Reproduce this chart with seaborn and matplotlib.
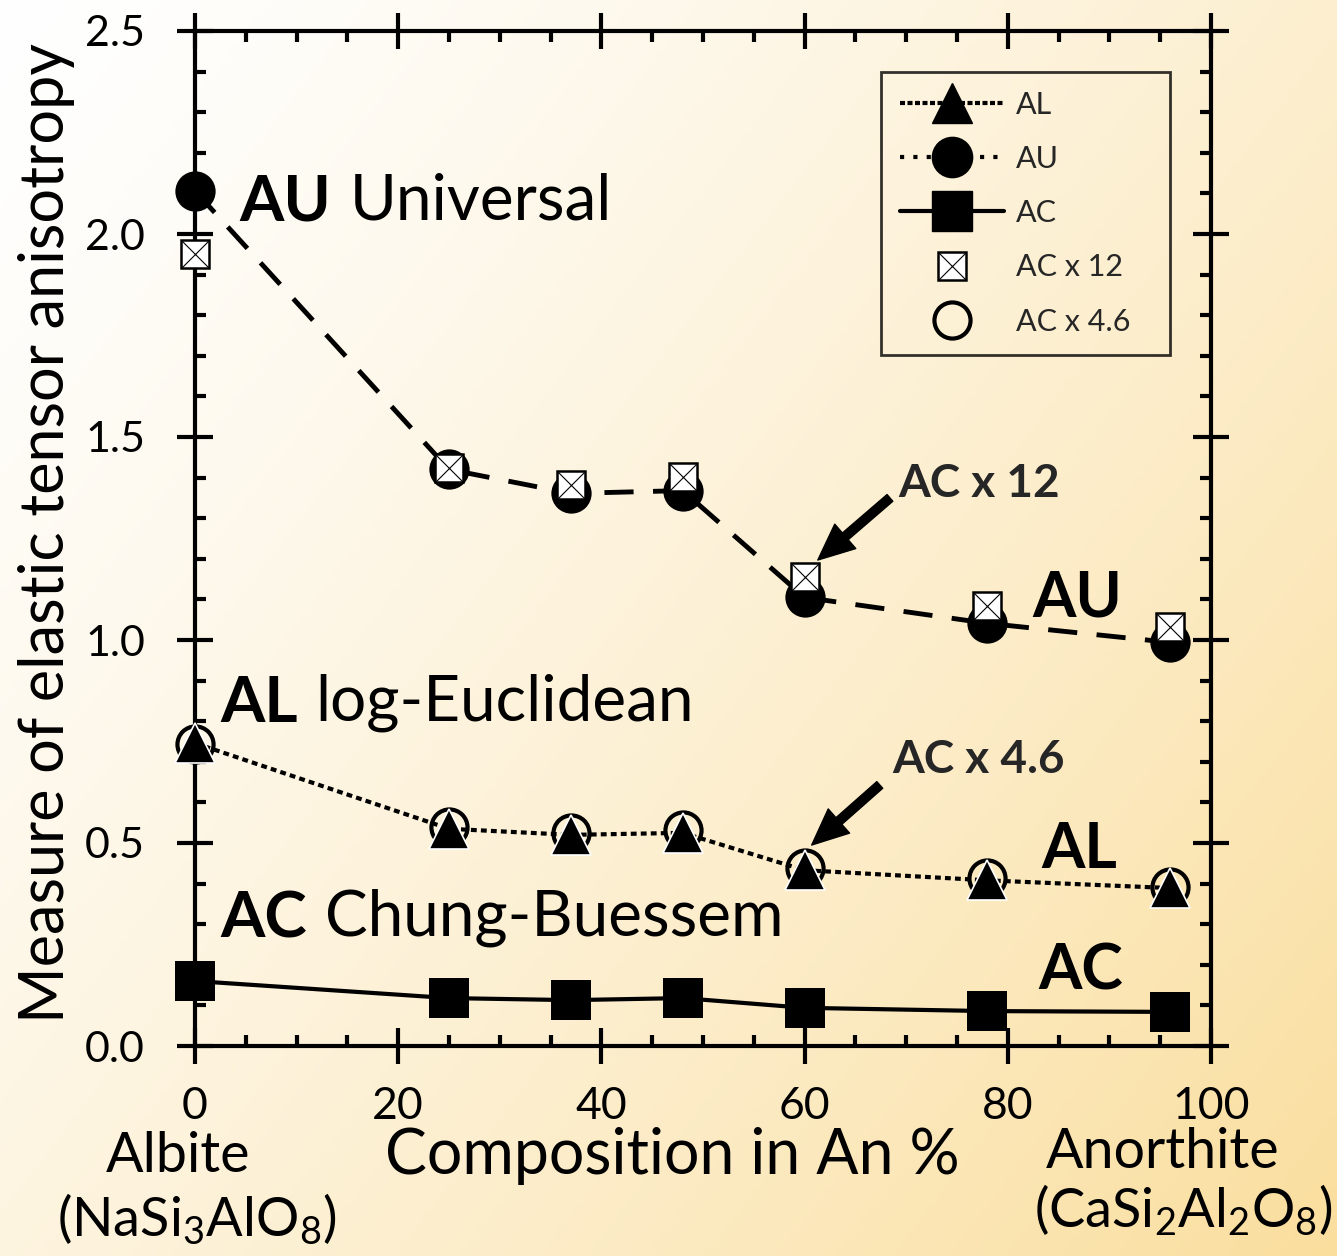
import numpy as np
import matplotlib
matplotlib.use("Agg")
import matplotlib.pyplot as plt
from matplotlib.lines import Line2D
from matplotlib.ticker import MultipleLocator, FormatStrFormatter
import seaborn as sns

sns.set_theme(style="ticks")
plt.rcParams["font.family"] = ["Lato", "DejaVu Sans"]
plt.rcParams["mathtext.fontset"] = "custom"
plt.rcParams["mathtext.rm"] = "Lato"
plt.rcParams["mathtext.it"] = "Lato:italic"
plt.rcParams["mathtext.bf"] = "Lato:bold"

# ---- Data ---------------------------------------------------------------
an_pct = [0, 25, 37, 48, 60, 78, 96]
au = [2.106, 1.42, 1.361, 1.368, 1.105, 1.041, 0.994]
al = [0.746, 0.535, 0.520, 0.525, 0.433, 0.408, 0.389]
ac = [0.160, 0.118, 0.113, 0.118, 0.094, 0.086, 0.084]
ac_x12 = [1.951, 1.424, 1.382, 1.401, 1.155, 1.084, 1.032]
ac_x46 = [0.745, 0.540, 0.525, 0.532, 0.438, 0.414, 0.392]

W, H, DPI = 1337, 1256, 100
fig = plt.figure(figsize=(W / DPI, H / DPI), dpi=DPI)

# ---- Background gradient -------------------------------------------------
bg = fig.add_axes([0, 0, 1, 1], zorder=-10)
gx, gy = np.meshgrid(np.linspace(0, 1, 300), np.linspace(0, 1, 300))
t = np.clip(0.58 * gx + 0.42 * gy, 0, 1) ** 1.3
c0 = np.array([255, 255, 255]) / 255
c1 = np.array([250, 222, 158]) / 255
grad = c0[None, None, :] * (1 - t[..., None]) + c1[None, None, :] * t[..., None]
bg.imshow(grad, aspect="auto", extent=(0, 1, 0, 1), origin="upper")
bg.axis("off")

ax = fig.add_axes([195 / W, 1 - 1046 / H, (1211 - 195) / W, (1046 - 31) / H])
ax.set_facecolor("none")

# ---- Series --------------------------------------------------------------
common = dict(ax=ax, color="black", legend=False, errorbar=None, sort=False, clip_on=False)
sns.lineplot(x=an_pct, y=au, marker="o", markersize=29, markeredgecolor="black",
             markeredgewidth=0, linewidth=3.5, linestyle=(0, (6, 4)), zorder=3, **common)
sns.lineplot(x=an_pct, y=ac_x12, marker="s", markersize=19.5, markerfacecolor="white",
             markeredgecolor="black", markeredgewidth=1.8, linestyle="none", zorder=5, **common)
sns.lineplot(x=an_pct, y=ac_x12, marker="x", markersize=19.5, markeredgecolor="black",
             markeredgewidth=0.8, linestyle="none", zorder=6, **common)
sns.lineplot(x=an_pct, y=ac_x46, marker="o", markersize=26, markerfacecolor="none",
             markeredgecolor="black", markeredgewidth=3, linestyle="none", zorder=3, **common)
sns.lineplot(x=an_pct, y=al, marker="^", markersize=29, markeredgecolor="white",
             markeredgewidth=1.2, linewidth=3, linestyle=(0, (1.4, 1.0)), zorder=4, **common)
sns.lineplot(x=an_pct, y=ac, marker="s", markersize=29, markeredgecolor="black",
             markeredgewidth=0, linewidth=3, zorder=4, **common)

# ---- Axes styling --------------------------------------------------------
ax.set_xlim(0, 100)
ax.set_ylim(0, 2.5)
ax.set_xticks([0, 20, 40, 60, 80, 100])
ax.set_yticks([0, 0.5, 1.0, 1.5, 2.0, 2.5])
ax.yaxis.set_major_formatter(FormatStrFormatter("%.1f"))
ax.xaxis.set_minor_locator(MultipleLocator(5))
ax.yaxis.set_minor_locator(MultipleLocator(0.1))
for s in ax.spines.values():
    s.set_visible(True)
    s.set_linewidth(3)
    s.set_color("black")
ax.tick_params(which="major", direction="inout", length=26, width=3, color="black",
               top=True, right=True)
ax.tick_params(which="minor", direction="in", length=8, width=3, color="black",
               top=True, right=True)
ax.tick_params(axis="x", which="major", labelsize=32, pad=16, labelcolor="black")
ax.tick_params(axis="y", which="major", labelsize=31, pad=23, labelcolor="black")
ax.grid(False)

ax.set_ylabel("Measure of elastic tensor anisotropy", fontsize=44, color="black")
ax.yaxis.set_label_coords(-0.118, 0.505)

# ---- In-plot labels ------------------------------------------------------
def two_part(x, y, bold, rest, size):
    t1 = ax.text(x, y, bold, fontsize=size, fontweight="bold", va="baseline", color="black")
    ax.annotate(rest, xy=(1, 0), xycoords=t1, xytext=(size * 0.28, 0),
                textcoords="offset points", fontsize=size, va="bottom", color="black")

two_part(4.4, 2.034, "AU", "Universal", 46)
two_part(2.46, 0.798, "AL", "log-Euclidean", 46)
two_part(2.46, 0.268, "AC", "Chung-Buessem", 46)

for x, y, s in [(82.4, 1.057, "AU"), (83.3, 0.438, "AL"), (83.0, 0.138, "AC")]:
    ax.text(x, y, s, fontsize=45, fontweight="bold", va="baseline", color="black")

arrow = dict(arrowstyle="simple,head_length=0.9,head_width=0.8,tail_width=0.22",
             color="black", mutation_scale=29, shrinkA=0, shrinkB=0)
ax.annotate("", xy=(61.3, 1.197), xytext=(68.4, 1.35), arrowprops=arrow)
ax.text(69.2, 1.352, "AC x 12", fontsize=33, fontweight="bold", va="baseline")
ax.annotate("", xy=(60.7, 0.495), xytext=(67.4, 0.643), arrowprops=arrow)
ax.text(68.6, 0.672, "AC x 4.6", fontsize=33, fontweight="bold", va="baseline")

# ---- Legend --------------------------------------------------------------
h_al = Line2D([], [], color="black", lw=3, ls=(0, (1.2, 0.6)), marker="^", ms=29)
h_au = Line2D([], [], color="black", lw=3, ls=(0, (1.0, 2.2)), marker="o", ms=29)
h_ac = Line2D([], [], color="black", lw=3, ls="-", marker="s", ms=29)
h_sq = Line2D([], [], ls="none", marker="s", ms=19.5, mfc="white", mec="black", mew=1.8)
h_x = Line2D([], [], ls="none", marker="x", ms=19.5, mec="black", mew=0.8)
h_oc = Line2D([], [], ls="none", marker="o", ms=26, mfc="none", mec="black", mew=3)
leg = ax.legend([h_al, h_au, h_ac, (h_sq, h_x), h_oc],
                ["AL", "AU", "AC", "AC x 12", "AC x 4.6"],
                loc="upper left", bbox_to_anchor=(0.675, 0.686, 0.285, 0.274),
                mode="expand", borderaxespad=0,
                fontsize=22, handlelength=3.4, handletextpad=0.4, labelspacing=0.86,
                frameon=True, fancybox=False, edgecolor="black", facecolor="none",
                borderpad=0.62)
leg.get_frame().set_linewidth(2)

# ---- Composition labels below the x axis --------------------------------
def ftext(px, py, s, size, **kw):
    fig.text(px / W, 1 - py / H, s, fontsize=size, ha="center", va="baseline",
             color="black", **kw)

ftext(178, 1172, "Albite", 40)
ftext(197, 1237, r"(NaSi$_3$AlO$_8$)", 39)
ftext(672, 1174, "Composition in An %", 45)
ftext(1163, 1168, "Anorthite", 40)
ftext(1183, 1228, r"(CaSi$_2$Al$_2$O$_8$)", 39)

fig.savefig("out.png", dpi=DPI)
